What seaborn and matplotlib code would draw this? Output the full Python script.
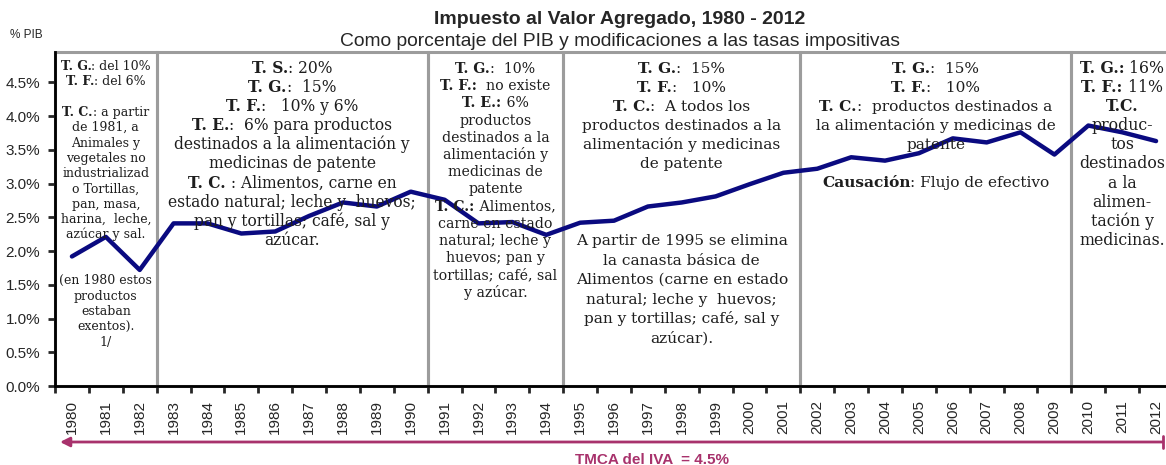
"""
IVA como porcentaje del PIB, 1980 - 2012, con las tasas impositivas por periodo.
"""

import matplotlib
matplotlib.use("Agg")
import matplotlib.pyplot as plt
import seaborn as sns
from matplotlib.patches import Rectangle
from matplotlib.lines import Line2D

# Data
years = list(range(1980, 2013))
iva_pib = [1.92, 2.21, 1.72, 2.41, 2.41, 2.26, 2.29, 2.52, 2.72, 2.66,
           2.88, 2.76, 2.41, 2.43, 2.24, 2.42, 2.45, 2.66, 2.72, 2.81,
           2.99, 3.16, 3.22, 3.39, 3.34, 3.45, 3.67, 3.61, 3.76, 3.43,
           3.86, 3.76, 3.63]
y_ticks = [0.0, 0.5, 1.0, 1.5, 2.0, 2.5, 3.0, 3.5, 4.0, 4.5]
periods = [(1980, 1982), (1983, 1990), (1991, 1994),
           (1995, 2001), (2002, 2009), (2010, 2012)]
tmca_label = "TMCA del IVA  = 4.5%"

# box notes, "**...**" marks bold pieces
box_top_texts = [
    ["**T. G.**: del 10%", "**T. F.**: del 6%", "",
     "**T. C.**: a partir", "de 1981, a", "Animales y", "vegetales no",
     "industrializad", "o Tortillas,", "pan, masa,", "harina,  leche,",
     "azúcar y sal."],
    ["**T. S.**: 20%", "**T. G.**:  15%", "**T. F.**:   10% y 6%",
     "**T. E.**:  6% para productos", "destinados a la alimentación y",
     "medicinas de patente", "**T. C.** : Alimentos, carne en",
     "estado natural; leche y  huevos;", "pan y tortillas; café, sal y",
     "azúcar."],
    ["**T. G.**:  10%", "**T. F.:**  no existe", "**T. E.:** 6%",
     "productos", "destinados a la", "alimentación y", "medicinas de",
     "patente", "**T. C.:** Alimentos,", "carne en estado",
     "natural; leche y", "huevos; pan y", "tortillas; café, sal", "y azúcar."],
    ["**T. G.**:  15%", "**T. F.**:   10%", "**T. C.**:  A todos los",
     "productos destinados a la", "alimentación y medicinas", "de patente"],
    ["**T. G.**:  15%", "**T. F.**:   10%",
     "**T. C.**:  productos destinados a", "la alimentación y medicinas de",
     "patente", "", "**Causación**: Flujo de efectivo"],
    ["**T. G.:** 16%", "**T. F.:** 11%", "**T.C.**", "produc-", "tos",
     "destinados", "a la", "alimen-", "tación y", "medicinas."],
]
box_low_texts = {
    0: ["(en 1980 estos", "productos", "estaban", "exentos).", "1/"],
    3: ["A partir de 1995 se elimina", "la canasta básica de",
        "Alimentos (carne en estado", "natural; leche y  huevos;",
        "pan y tortillas; café, sal y", "azúcar)."],
}

# text layout per box: font size, first line centre (px from top), line step
box_font = [9.0, 11.2, 10.2, 11.1, 11.1, 11.3]
box_first = [65, 68, 68, 68, 68, 68]
box_step = [15.3, 19.1, 17.2, 19.0, 19.0, 19.1]
low_first = {0: 279, 3: 240}
low_step = {0: 15.5, 3: 19.5}

W, H = 1166, 465
LINE_COLOR = "#0a0a80"
BOX_COLOR = "#9c9c9c"
TMCA_COLOR = "#a8326c"
SERIF = "DejaVu Serif"


def text_width(fig, renderer, s, size, bold):
    kw = dict(fontsize=size, family=SERIF, fontweight="bold" if bold else "normal")
    t1 = fig.text(0, 0, "|" + s + "|", **kw)
    t2 = fig.text(0, 0, "||", **kw)
    w = t1.get_window_extent(renderer).width - t2.get_window_extent(renderer).width
    t1.remove()
    t2.remove()
    return w


def draw_block(fig, renderer, xc, first, step, lines, size):
    for i, line in enumerate(lines):
        parts = line.split("**")
        segs = [(p, k % 2 == 1) for k, p in enumerate(parts) if p]
        if not segs:
            continue
        widths = [text_width(fig, renderer, s, size, b) for s, b in segs]
        x = xc - sum(widths) / 2
        y = H - (first + i * step + 5)
        for (s, b), w in zip(segs, widths):
            fig.text(x / W, y / H, s, ha="left", va="baseline", fontsize=size,
                     family=SERIF, fontweight="bold" if b else "normal",
                     color="#1e1e1e", zorder=2)
            x += w


def main():
    sns.set_style("white")
    plt.rcParams["font.family"] = ["Liberation Sans", "DejaVu Sans"]

    fig = plt.figure(figsize=(W / 100, H / 100), dpi=100)
    ax = fig.add_axes([55 / W, 1 - 386 / H, (1173 - 55) / W, 334 / H])
    renderer = fig.canvas.get_renderer()

    x = list(range(len(years)))
    sns.lineplot(x=x, y=iva_pib, ax=ax, color=LINE_COLOR, linewidth=3.2, zorder=3)

    ymax = 4.95
    ax.set_xlim(-0.5, len(years) - 0.5)
    ax.set_ylim(0, ymax)

    # period boxes with their notes
    for i, (a, b) in enumerate(periods):
        x0 = years.index(a) - 0.5
        x1 = years.index(b) + 0.5
        ax.add_patch(Rectangle((x0, 0), x1 - x0, ymax, fill=False,
                               edgecolor=BOX_COLOR, linewidth=2.2,
                               clip_on=False, zorder=1))
        xc = ax.transData.transform(((x0 + x1) / 2, 0))[0]
        draw_block(fig, renderer, xc, box_first[i], box_step[i],
                   box_top_texts[i], box_font[i])
        if i in box_low_texts:
            draw_block(fig, renderer, xc, low_first[i], low_step[i],
                       box_low_texts[i], box_font[i])

    # axes styling
    for side in ["top", "right"]:
        ax.spines[side].set_visible(False)
    for side in ["left", "bottom"]:
        ax.spines[side].set_color("black")
        ax.spines[side].set_linewidth(2)
        ax.spines[side].set_zorder(4)

    ax.set_yticks(y_ticks)
    ax.set_yticklabels([f"{v:.1f}%" for v in y_ticks], fontsize=11)
    ax.tick_params(axis="y", direction="out", length=5, width=2, left=True, pad=5.8)

    ax.set_xticks(x)
    ax.set_xticklabels([str(y) for y in years], rotation=90, fontsize=11)
    ax.set_xticks([k - 0.5 for k in range(len(years) + 1)], minor=True)
    ax.tick_params(axis="x", which="major", length=0, pad=10, bottom=True)
    ax.tick_params(axis="x", which="minor", direction="out", length=5,
                   width=2, bottom=True)

    # titles
    fig.text(620 / W, 1 - 19 / H, "Impuesto al Valor Agregado, 1980 - 2012",
             ha="center", va="center", fontsize=14, fontweight="bold")
    fig.text(620 / W, 1 - 41 / H,
             "Como porcentaje del PIB y modificaciones a las tasas impositivas",
             ha="center", va="center", fontsize=13.9)
    fig.text(10 / W, 1 - 35 / H, "% PIB", ha="left", va="center", fontsize=8.5)

    # growth-rate arrow
    ya = 1 - 442 / H
    ax.annotate("", xy=(60 / W, ya), xytext=(1163 / W, ya),
                xycoords="figure fraction", textcoords="figure fraction",
                arrowprops=dict(arrowstyle="-|>", color=TMCA_COLOR, lw=2,
                                mutation_scale=14, shrinkA=0, shrinkB=0))
    fig.add_artist(Line2D([1163 / W, 1163 / W], [ya - 6 / H, ya + 6 / H],
                          color=TMCA_COLOR, lw=2))
    fig.text(652 / W, 1 - 460 / H, tmca_label, ha="center", va="center",
             fontsize=11, fontweight="bold", color=TMCA_COLOR)

    fig.savefig("out.png", dpi=100)


if __name__ == "__main__":
    main()
